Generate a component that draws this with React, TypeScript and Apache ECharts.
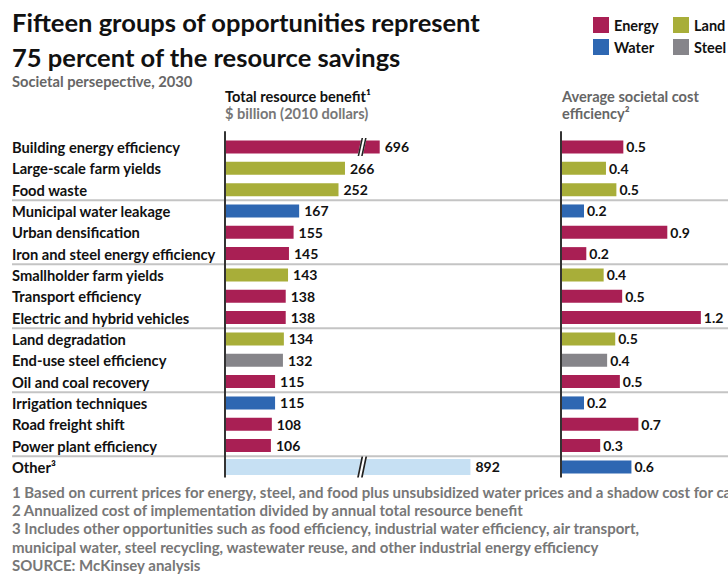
import React, { useEffect, useRef } from "react";
import * as echarts from "echarts";

const FONT = "Lato, 'Open Sans', sans-serif";

const CATEGORIES = [
  "Building energy efficiency",
  "Large-scale farm yields",
  "Food waste",
  "Municipal water leakage",
  "Urban densification",
  "Iron and steel energy efficiency",
  "Smallholder farm yields",
  "Transport efficiency",
  "Electric and hybrid vehicles",
  "Land degradation",
  "End-use steel efficiency",
  "Oil and coal recovery",
  "Irrigation techniques",
  "Road freight shift",
  "Power plant efficiency",
  "Other³",
];
const GROUPS = [
  "Energy", "Land", "Land", "Water", "Energy", "Energy", "Land", "Energy",
  "Energy", "Land", "Steel", "Energy", "Water", "Energy", "Energy", "Other",
];
const BENEFIT = [696, 266, 252, 167, 155, 145, 143, 138, 138, 134, 132, 115, 115, 108, 106, 892];
const COST_EFFICIENCY = [0.53, 0.38, 0.47, 0.19, 0.91, 0.21, 0.36, 0.52, 1.2, 0.46, 0.39, 0.5, 0.19, 0.66, 0.33, 0.6];
const COST_GROUPS = [
  "Energy", "Land", "Land", "Water", "Energy", "Energy", "Land", "Energy",
  "Energy", "Land", "Steel", "Energy", "Water", "Energy", "Energy", "Water",
];
const LEGEND_ITEMS = ["Energy", "Land", "Water", "Steel"];
const SEPARATOR_AFTER = [3, 6, 9, 12, 15];
const FOOTNOTES = [
  "1 Based on current prices for energy, steel, and food plus unsubsidized water prices and a shadow cost for carbon",
  "2 Annualized cost of implementation divided by annual total resource benefit",
  "3 Includes other opportunities such as food efficiency, industrial water efficiency, air transport,",
  "municipal water, steel recycling, wastewater reuse, and other industrial energy efficiency",
  "SOURCE: McKinsey analysis",
];

// axis break for the two very long bars
const BREAK_START = 303;
const BREAK_END = 658;

const COLORS: Record<string, string> = {
  Energy: "#A91F54",
  Land: "#A8AE39",
  Water: "#2E67B2",
  Steel: "#86858A",
  Other: "#C6E0F3",
};

const GRID_TOP = 136.3;
const ROW_H = 21.33;
const GRID_H = ROW_H * CATEGORIES.length;
const LEFT_X = 226;
const LEFT_W = 250;
const RIGHT_X = 562;
const RIGHT_W = 162;

const disp = (v: number) => (v > BREAK_END ? v - (BREAK_END - BREAK_START) : v);

const WHITE_PATH = "path://M0,18 L4,0 L9.2,0 L5.2,18 Z";
const SLASH_PATH = "path://M0,18 L4,0 L5.6,0 L1.6,18 Z M3.6,18 L7.6,0 L9.2,0 L5.2,18 Z";

export default function App() {
  const ref = useRef<HTMLDivElement>(null);
  useEffect(() => {
    document.body.style.margin = "0";
    if (!ref.current) return;
    const chart = echarts.init(ref.current, undefined, { renderer: "svg" });
    const lastIdx = CATEGORIES.length - 1;

    const mainData = BENEFIT.map((v, i) =>
      i === lastIdx ? "-" : { value: disp(v), itemStyle: { color: COLORS[GROUPS[i]] } }
    );
    const otherData = BENEFIT.map((v, i) =>
      i === lastIdx ? { value: disp(v), itemStyle: { color: COLORS[GROUPS[i]] } } : "-"
    );
    const breakData = BENEFIT.map((v, i) => ({ v, i }))
      .filter((d) => d.v > BREAK_END)
      .map((d) => ({
        value: [BREAK_START, CATEGORIES[d.i]],
        symbolSize: d.i === lastIdx ? [10, 21] : [9, 18],
      }));

    const labelStyle = {
      show: true,
      position: "right",
      fontSize: 14,
      fontWeight: "bold",
      color: "#111",
      fontFamily: FONT,
    };

    const txt = (text: string, x: number, y: number, size: number, fill: string) => ({
      type: "text",
      x,
      y,
      style: { text, fontSize: size, fontWeight: "bold", fontFamily: FONT, fill, verticalAlign: "middle" },
    });

    const graphics: any[] = [];
    graphics.push(
      txt("Fifteen groups of opportunities represent", 12, 22, 25.5, "#111"),
      txt("75 percent of the resource savings", 12, 57, 25.5, "#111"),
      txt("Societal persepective, 2030", 12, 81, 14.7, "#666"),
      txt("Total resource benefit¹", LEFT_X - 1, 96, 14.6, "#111"),
      txt("$ billion (2010 dollars)", LEFT_X - 1, 113, 14.6, "#777"),
      txt("Average societal cost", RIGHT_X, 96, 14.6, "#666"),
      txt("efficiency²", RIGHT_X, 113, 14.6, "#666")
    );
    LEGEND_ITEMS.forEach((name, k) => {
      const col = k % 2;
      const row = Math.floor(k / 2);
      const x = 593 + col * 80;
      const y = 17 + row * 22;
      graphics.push(
        { type: "rect", shape: { x, y, width: 16, height: 16 }, style: { fill: COLORS[name] } },
        txt(name, x + 21, y + 8.5, 14.5, "#111")
      );
    });
    SEPARATOR_AFTER.forEach((k) => {
      const y = GRID_TOP + k * ROW_H;
      graphics.push({ type: "line", shape: { x1: 12, y1: y, x2: 728, y2: y }, style: { stroke: "#c4c4c4", lineWidth: 2 }, z: 1 });
    });
    [LEFT_X - 1, RIGHT_X - 1].forEach((x) => {
      graphics.push({ type: "line", shape: { x1: x, y1: GRID_TOP - 5, x2: x, y2: GRID_TOP + GRID_H }, style: { stroke: "#333", lineWidth: 2 }, z: 100 });
    });
    FOOTNOTES.forEach((t, k) => {
      graphics.push(txt(t, 12, 492 + k * 18.2, 15, "#777"));
    });

    const yCat = (gridIndex: number, showLabel: boolean) => ({
      type: "category",
      gridIndex,
      data: CATEGORIES,
      inverse: true,
      axisLine: { show: false },
      axisTick: { show: false },
      splitLine: { show: false },
      axisLabel: showLabel
        ? { show: true, align: "left", margin: LEFT_X - 12, fontSize: 14.7, fontWeight: "bold", color: "#111", fontFamily: FONT }
        : { show: false },
    });

    chart.setOption({
      animation: false,
      backgroundColor: "#fff",
      textStyle: { fontFamily: FONT },
      grid: [
        { left: LEFT_X, top: GRID_TOP, width: LEFT_W, height: GRID_H },
        { left: RIGHT_X, top: GRID_TOP, width: RIGHT_W, height: GRID_H },
        { left: LEFT_X, top: GRID_TOP, width: LEFT_W, height: GRID_H },
      ],
      xAxis: [
        { type: "value", gridIndex: 0, min: 9, max: 549, show: false },
        { type: "value", gridIndex: 1, min: 0, max: 1.4, show: false },
        { type: "value", gridIndex: 2, min: 9, max: 549, show: false },
      ],
      yAxis: [yCat(0, true), yCat(1, false), yCat(2, false)],
      series: [
        {
          type: "bar",
          xAxisIndex: 0,
          yAxisIndex: 0,
          barWidth: 13,
          data: mainData,
          label: { ...labelStyle, distance: 5, formatter: (p: any) => String(BENEFIT[p.dataIndex]) },
        },
        {
          type: "bar",
          xAxisIndex: 2,
          yAxisIndex: 2,
          barWidth: 16,
          data: otherData,
          label: { ...labelStyle, distance: 5, formatter: (p: any) => String(BENEFIT[p.dataIndex]) },
        },
        {
          type: "scatter",
          xAxisIndex: 0,
          yAxisIndex: 0,
          symbol: WHITE_PATH,
          symbolKeepAspect: false,
          itemStyle: { color: "#fff", opacity: 1 },
          data: breakData,
          z: 5,
        },
        {
          type: "scatter",
          xAxisIndex: 0,
          yAxisIndex: 0,
          symbol: SLASH_PATH,
          symbolKeepAspect: false,
          itemStyle: { color: "#222", opacity: 1 },
          data: breakData,
          z: 6,
        },
        {
          type: "bar",
          xAxisIndex: 1,
          yAxisIndex: 1,
          barWidth: 13,
          data: COST_EFFICIENCY.map((v, i) => ({ value: v, itemStyle: { color: COLORS[COST_GROUPS[i]] } })),
          label: { ...labelStyle, distance: 3, formatter: (p: any) => Number(p.value).toFixed(1) },
        },
      ],
      graphic: graphics,
    });
    return () => chart.dispose();
  }, []);
  return <div ref={ref} style={{ width: 728, height: 574 }} />;
}
